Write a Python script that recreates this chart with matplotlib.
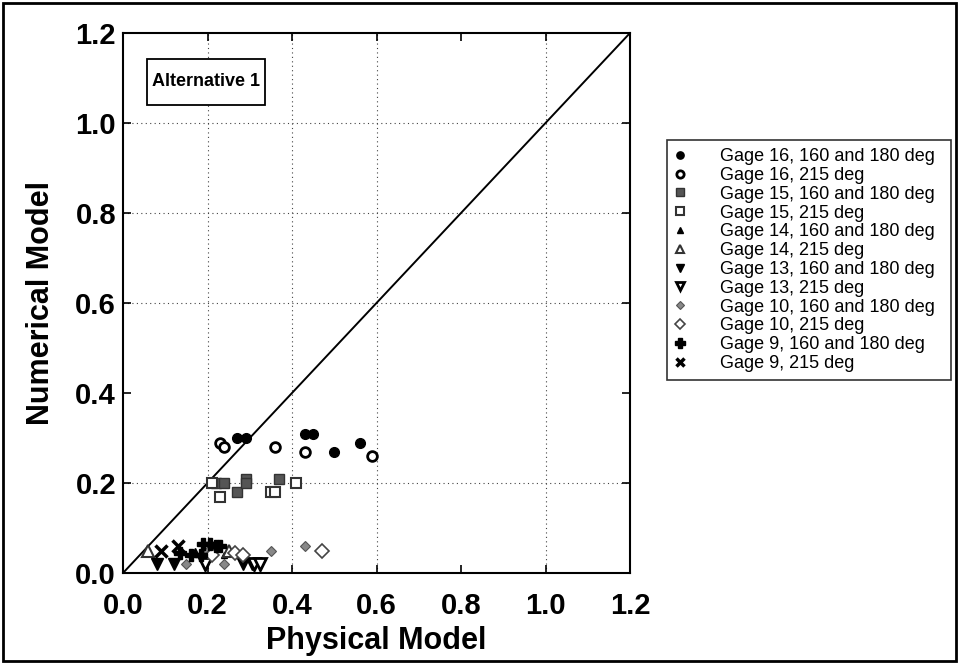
import matplotlib
matplotlib.use("Agg")
import matplotlib.pyplot as plt
from matplotlib.patches import Rectangle

plt.rcParams['font.family'] = ['Liberation Sans', 'DejaVu Sans']

# ---- data ----
g16a_x = [0.27, 0.29, 0.43, 0.45, 0.50, 0.56]
g16a_y = [0.30, 0.30, 0.31, 0.31, 0.27, 0.29]
g16b_x = [0.23, 0.24, 0.36, 0.43, 0.59]
g16b_y = [0.29, 0.28, 0.28, 0.27, 0.26]
g15a_x = [0.22, 0.24, 0.27, 0.29, 0.29, 0.37]
g15a_y = [0.20, 0.20, 0.18, 0.21, 0.20, 0.21]
g15b_x = [0.21, 0.23, 0.35, 0.36, 0.41]
g15b_y = [0.20, 0.17, 0.18, 0.18, 0.20]
g14a_x = [0.17, 0.21, 0.24]
g14a_y = [0.05, 0.05, 0.04]
g14b_x = [0.06, 0.25]
g14b_y = [0.05, 0.05]
g13a_x = [0.08, 0.12, 0.285, 0.305]
g13a_y = [0.02, 0.02, 0.02, 0.02]
g13b_x = [0.195, 0.31, 0.325]
g13b_y = [0.02, 0.02, 0.02]
g10a_x = [0.15, 0.24, 0.35, 0.43, 0.20, 0.215]
g10a_y = [0.02, 0.02, 0.05, 0.06, 0.05, 0.06]
g10b_x = [0.21, 0.265, 0.285, 0.47]
g10b_y = [0.04, 0.045, 0.04, 0.05]
g9a_x = [0.135, 0.16, 0.185, 0.19, 0.205, 0.22, 0.23]
g9a_y = [0.045, 0.04, 0.04, 0.065, 0.065, 0.06, 0.06]
g9b_x = [0.09, 0.13]
g9b_y = [0.05, 0.06]

labels = ["Gage 16, 160 and 180 deg", "Gage 16, 215 deg",
          "Gage 15, 160 and 180 deg", "Gage 15, 215 deg",
          "Gage 14, 160 and 180 deg", "Gage 14, 215 deg",
          "Gage 13, 160 and 180 deg", "Gage 13, 215 deg",
          "Gage 10, 160 and 180 deg", "Gage 10, 215 deg",
          "Gage 9, 160 and 180 deg", "Gage 9, 215 deg"]

ticks = [0.0, 0.2, 0.4, 0.6, 0.8, 1.0, 1.2]
tick_labels = ["0.0", "0.2", "0.4", "0.6", "0.8", "1.0", "1.2"]
hgrid = [0.2, 0.6, 0.8, 1.0]
vgrid = [0.2, 0.4, 0.6, 1.0]

fig = plt.figure(figsize=(9.59, 6.64), dpi=100)
ax = fig.add_axes([123/959, 1-573/664, (630-123)/959, (573-33)/664])

# grid
for g in hgrid:
    ax.axhline(g, color='#444444', lw=0.8, ls=(0, (1, 3)), zorder=0)
for g in vgrid:
    ax.axvline(g, color='#444444', lw=0.8, ls=(0, (1, 3)), zorder=0)

ax.plot([0, 1.2], [0, 1.2], color='black', lw=1.4, zorder=1)

series = [
    (g16a_x, g16a_y, dict(marker='o', ms=7, mfc='black', mec='black')),
    (g16b_x, g16b_y, dict(marker='o', ms=7, mfc='white', mec='black', mew=2)),
    (g15a_x, g15a_y, dict(marker='s', ms=7, mfc='#555555', mec='#333333', mew=1)),
    (g15b_x, g15b_y, dict(marker='s', ms=7, mfc='white', mec='#333333', mew=1.5)),
    (g14a_x, g14a_y, dict(marker='^', ms=5, mfc='black', mec='black')),
    (g14b_x, g14b_y, dict(marker='^', ms=8, mfc='white', mec='#333333', mew=1.5)),
    (g13a_x, g13a_y, dict(marker='v', ms=8, mfc='black', mec='black')),
    (g13b_x, g13b_y, dict(marker='v', ms=8, mfc='white', mec='black', mew=2)),
    (g10a_x, g10a_y, dict(marker='D', ms=5, mfc='#888888', mec='#555555', mew=0.8)),
    (g10b_x, g10b_y, dict(marker='D', ms=7, mfc='white', mec='#444444', mew=1.2)),
    (g9a_x, g9a_y, dict(marker='P', ms=9, mfc='black', mec='black')),
    (g9b_x, g9b_y, dict(marker='x', ms=8, mfc='black', mec='black', mew=2.5)),
]
for (xs, ys, st), lab in zip(series, labels):
    ax.plot(xs, ys, ls='none', label=lab, zorder=3, **st)

ax.set_xlim(0, 1.2)
ax.set_ylim(0, 1.2)
ax.set_xticks(ticks)
ax.set_yticks(ticks)
ax.set_xticklabels(tick_labels, fontsize=21, fontweight='bold')
ax.set_yticklabels(tick_labels, fontsize=21, fontweight='bold')
ax.tick_params(axis='both', direction='in', top=True, right=True,
               length=6, width=1.2)
ax.tick_params(axis='x', pad=14)
ax.tick_params(axis='y', pad=5)
for s in ax.spines.values():
    s.set_linewidth(1.5)

ax.set_xlabel("Physical Model", fontsize=22, fontweight='bold', labelpad=4)
ax.set_ylabel("Numerical Model", fontsize=22, fontweight='bold', labelpad=14)

# "Alternative 1" box
ax.add_patch(Rectangle((24/507, (573-105)/540), 118/507, 46/540,
                       transform=ax.transAxes, fill=True, fc='white',
                       ec='black', lw=1.3, zorder=4))
ax.text((206-123)/507, (573-82)/540, "Alternative 1", transform=ax.transAxes,
        fontsize=13, fontweight='bold', va='center', ha='center', zorder=5)

leg = fig.legend(loc='upper left',
                 bbox_to_anchor=(667/959, 1-140/664, (951-667)/959, 0),
                 mode='expand', markerscale=0.75,
                 fontsize=13, frameon=True, fancybox=False, edgecolor='black',
                 handlelength=0.55, handletextpad=1.95, borderpad=0.45,
                 labelspacing=0.1, borderaxespad=0)
leg.get_frame().set_linewidth(1.2)

fig.patches.append(Rectangle((3/959, 3/664), (956-3)/959, (661-3)/664,
                             transform=fig.transFigure, fill=False,
                             ec='black', lw=2))

fig.savefig("out.png", dpi=100)
